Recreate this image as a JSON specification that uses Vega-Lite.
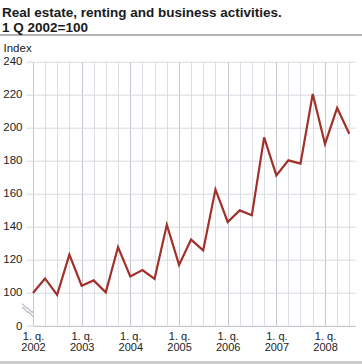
{
  "$schema": "https://vega.github.io/schema/vega-lite/v6.json",
  "autosize": {"type": "none"},
  "width": 322,
  "height": 264.3,
  "padding": {"left": 33, "top": 61.7, "right": 7, "bottom": 38},
  "background": "white",
  "title": {
    "text": ["Real estate, renting and business activities.", "1 Q 2002=100"],
    "anchor": "start",
    "frame": "group",
    "dx": -31,
    "fontSize": 13.5,
    "fontWeight": "bold",
    "font": "Liberation Sans",
    "color": "#1a1a1a",
    "lineHeight": 15,
    "offset": 0
  },
  "config": {
    "view": {"stroke": null},
    "axis": {"labelFont": "Liberation Sans", "titleFont": "Liberation Sans", "labelColor": "#222", "titleColor": "#222"}
  },
  "data": {"values": [
    {"quarter": "2002-01-01T00:00", "index": 100},
    {"quarter": "2002-04-01T00:00", "index": 108.8},
    {"quarter": "2002-07-01T00:00", "index": 98.8},
    {"quarter": "2002-10-01T00:00", "index": 123.2},
    {"quarter": "2003-01-01T00:00", "index": 104.4},
    {"quarter": "2003-04-01T00:00", "index": 107.6},
    {"quarter": "2003-07-01T00:00", "index": 100.4},
    {"quarter": "2003-10-01T00:00", "index": 127.8},
    {"quarter": "2004-01-01T00:00", "index": 110},
    {"quarter": "2004-04-01T00:00", "index": 113.9},
    {"quarter": "2004-07-01T00:00", "index": 108.5},
    {"quarter": "2004-10-01T00:00", "index": 141.3},
    {"quarter": "2005-01-01T00:00", "index": 117},
    {"quarter": "2005-04-01T00:00", "index": 132.3},
    {"quarter": "2005-07-01T00:00", "index": 125.8},
    {"quarter": "2005-10-01T00:00", "index": 162.7},
    {"quarter": "2006-01-01T00:00", "index": 143},
    {"quarter": "2006-04-01T00:00", "index": 150},
    {"quarter": "2006-07-01T00:00", "index": 147},
    {"quarter": "2006-10-01T00:00", "index": 194.2},
    {"quarter": "2007-01-01T00:00", "index": 171.2},
    {"quarter": "2007-04-01T00:00", "index": 180.3},
    {"quarter": "2007-07-01T00:00", "index": 178.3},
    {"quarter": "2007-10-01T00:00", "index": 220.5},
    {"quarter": "2008-01-01T00:00", "index": 190.2},
    {"quarter": "2008-04-01T00:00", "index": 212},
    {"quarter": "2008-07-01T00:00", "index": 196.4}
  ]},
  "layer": [
    {
      "mark": {"type": "line", "color": "#a0302a", "strokeWidth": 2.2, "clip": false},
      "encoding": {
        "x": {
          "field": "quarter", "type": "temporal",
          "scale": {"domain": [{"year": 2002, "month": 1, "date": 1}, {"year": 2008, "month": 8, "date": 13}]},
          "axis": {
            "title": null,
            "tickCount": 100,
            "values": [
              {"year": 2002, "month": 1, "date": 1}, {"year": 2002, "month": 4, "date": 1}, {"year": 2002, "month": 7, "date": 1}, {"year": 2002, "month": 10, "date": 1},
              {"year": 2003, "month": 1, "date": 1}, {"year": 2003, "month": 4, "date": 1}, {"year": 2003, "month": 7, "date": 1}, {"year": 2003, "month": 10, "date": 1},
              {"year": 2004, "month": 1, "date": 1}, {"year": 2004, "month": 4, "date": 1}, {"year": 2004, "month": 7, "date": 1}, {"year": 2004, "month": 10, "date": 1},
              {"year": 2005, "month": 1, "date": 1}, {"year": 2005, "month": 4, "date": 1}, {"year": 2005, "month": 7, "date": 1}, {"year": 2005, "month": 10, "date": 1},
              {"year": 2006, "month": 1, "date": 1}, {"year": 2006, "month": 4, "date": 1}, {"year": 2006, "month": 7, "date": 1}, {"year": 2006, "month": 10, "date": 1},
              {"year": 2007, "month": 1, "date": 1}, {"year": 2007, "month": 4, "date": 1}, {"year": 2007, "month": 7, "date": 1}, {"year": 2007, "month": 10, "date": 1},
              {"year": 2008, "month": 1, "date": 1}, {"year": 2008, "month": 4, "date": 1}, {"year": 2008, "month": 7, "date": 1}
            ],
            "labelExpr": "month(datum.value) == 0 ? ['1. q.', timeFormat(datum.value, '%Y')] : ''",
            "labelFontSize": 11,
            "labelLineHeight": 11,
            "labelPadding": 4,
            "labelAngle": 0,
            "labelAlign": "center",
            "labelBaseline": "top",
            "labelOverlap": false,
            "labelFlush": false,
            "ticks": false,
            "grid": true,
            "gridColor": {"condition": {"test": "month(datum.value) == 0", "value": "#c4c7cd"}, "value": "#dcdee3"},
            "gridOpacity": 1,
            "gridWidth": 1,
            "domain": true,
            "domainColor": "#c4c7cd",
            "domainWidth": 1
          }
        },
        "y": {
          "field": "index", "type": "quantitative",
          "scale": {"domain": [80, 240], "nice": false, "zero": false},
          "axis": {
            "title": "Index",
            "titleAngle": 0,
            "titleAlign": "left",
            "titleBaseline": "alphabetic",
            "titleX": -30,
            "titleY": -10,
            "titleFontSize": 11.5,
            "titleFontWeight": "normal",
            "tickCount": 100,
            "values": [80, 100, 120, 140, 160, 180, 200, 220, 240],
            "labelExpr": "datum.value == 80 ? '0' : datum.label",
            "labelFontSize": 11.5,
            "labelPadding": 4,
            "labelOverlap": false,
            "tickSize": 7,
            "tickColor": "#d8dadf",
            "grid": true,
            "gridColor": "#d8dadf",
            "gridOpacity": 1,
            "domain": false
          }
        }
      }
    },
    {
      "mark": {"type": "rule", "color": "#c4c7cd", "strokeWidth": 1, "clip": false},
      "encoding": {
        "x": {"datum": {"year": 2001, "month": 10, "date": 16}, "type": "temporal"},
        "x2": {"datum": {"year": 2002, "month": 1, "date": 1}},
        "y": {"datum": 93, "type": "quantitative"},
        "y2": {"datum": 88}
      }
    },
    {
      "mark": {"type": "rule", "color": "#c4c7cd", "strokeWidth": 1, "clip": false},
      "encoding": {
        "x": {"datum": {"year": 2001, "month": 10, "date": 16}, "type": "temporal"},
        "x2": {"datum": {"year": 2002, "month": 1, "date": 1}},
        "y": {"datum": 91, "type": "quantitative"},
        "y2": {"datum": 86}
      }
    },
    {
      "mark": {"type": "rule", "color": "#b4b4b4", "strokeWidth": 1, "clip": false},
      "encoding": {
        "x": {"datum": {"year": 2001, "month": 4, "date": 20}, "type": "temporal"},
        "x2": {"datum": {"year": 2008, "month": 10, "date": 20}},
        "y": {"datum": 256.3, "type": "quantitative"}
      }
    },
    {
      "mark": {"type": "rule", "color": "#cccccc", "strokeWidth": 3, "clip": false},
      "encoding": {
        "x": {"datum": {"year": 2001, "month": 4, "date": 20}, "type": "temporal"},
        "x2": {"datum": {"year": 2008, "month": 10, "date": 20}},
        "y": {"datum": 57.5, "type": "quantitative"}
      }
    }
  ]
}
